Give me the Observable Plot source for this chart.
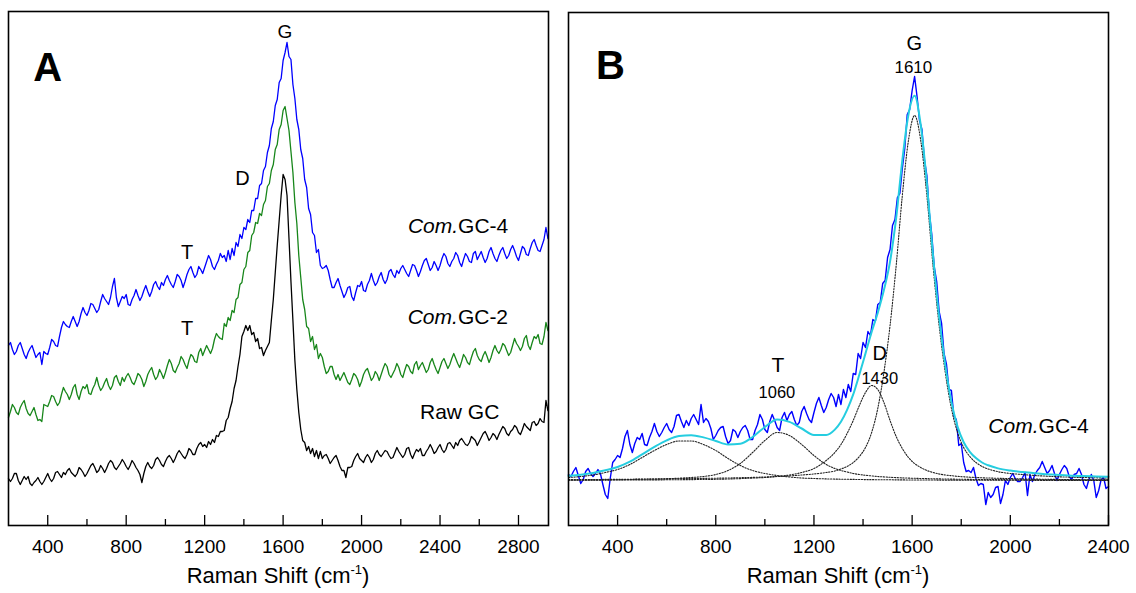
<!DOCTYPE html>
<html><head><meta charset="utf-8">
<script src="https://cdn.jsdelivr.net/npm/d3@7"></script>
<script src="https://cdn.jsdelivr.net/npm/@observablehq/plot@0.6"></script>
<style>
body{margin:0;background:#fff;}
#wrap{position:relative;width:1136px;height:593px;font-family:"Liberation Sans",Arial,sans-serif;overflow:hidden;}
.panel{position:absolute;top:0;}
.xt{position:absolute;top:565px;font-size:22px;line-height:22px;transform:translateX(-50%);white-space:nowrap;color:#000;}
.xt sup{font-size:13px;vertical-align:9px;line-height:0;}
</style></head><body><div id="wrap"></div>
<script>
// ---------- Panel A: Raman spectra, sampled every 10 cm-1 from 200 cm-1 ----------
const A_START = 200, A_STEP = 10;
const comGC4 = [
179,182,175,170,173,179,182,176,170,166,
172,176,179,173,167,170,172,160,173,171,
170,177,185,183,179,178,188,197,203,200,
198,197,203,208,203,198,203,211,217,212,
209,214,221,220,216,212,215,223,230,226,
223,220,227,238,246,227,218,223,228,226,
230,220,219,225,229,235,229,224,228,234,
239,233,228,233,240,243,238,235,242,239,
245,249,244,240,237,243,250,248,244,237,
243,250,255,258,252,247,250,258,255,251,
257,263,269,265,258,255,260,264,271,267,
269,263,274,265,276,269,282,278,290,286,
297,295,305,302,314,314,326,326,339,341,
354,358,372,379,396,403,419,425,442,446,
464,472,482,468,465,440,426,405,395,375,
366,345,337,316,310,292,289,272,275,259,
256,257,259,254,245,237,237,242,246,239,
233,227,231,237,238,228,224,232,239,238,
243,234,233,240,244,251,244,239,242,248,
252,245,241,245,253,255,250,247,254,251,
256,259,255,251,248,254,260,259,254,248,
253,259,264,266,260,254,257,263,259,254,
259,266,271,268,261,258,263,266,272,269,
262,258,265,271,268,263,262,271,273,265,
269,273,267,262,266,273,277,271,266,263,
269,274,277,271,266,269,275,279,274,268,
264,271,278,276,270,269,276,282,285,279,
274,273,279,285,297,286];
const comGC2 = [
107,113,120,117,112,110,117,121,124,116,
111,109,113,117,110,104,105,103,120,119,
118,123,129,128,123,119,122,130,137,133,
130,125,130,137,140,130,125,133,138,136,
140,131,130,136,140,147,139,134,137,142,
146,139,135,139,147,149,143,139,147,143,
148,151,147,142,140,145,151,149,145,138,
143,150,154,157,150,145,148,155,151,146,
152,159,165,161,154,152,157,161,168,165,
160,156,164,170,168,163,162,172,176,169,
174,179,175,171,176,185,191,188,186,185,
201,198,207,204,214,212,225,227,240,242,
255,258,272,274,289,292,302,301,311,309,
320,324,338,341,354,360,375,380,395,400,
414,418,406,394,373,352,322,301,269,247,
225,215,198,196,183,188,175,180,166,171,
167,158,151,153,158,158,150,145,150,144,
148,152,147,142,140,145,151,149,145,138,
143,150,154,156,150,144,147,153,150,144,
150,156,161,158,150,147,151,155,161,157,
150,147,154,160,158,153,151,160,163,155,
159,162,157,152,155,162,166,160,155,151,
157,163,166,161,156,160,166,171,166,161,
157,163,170,167,162,160,167,173,176,169,
165,163,169,173,168,162,167,174,179,174,
171,175,181,179,174,169,172,179,186,181,
178,174,178,186,189,179,175,182,188,186,
190,181,180,188,202,194];
const rawGC = [
46,43,46,51,51,44,40,44,48,45,
48,41,39,42,44,47,43,40,43,47,
51,46,43,46,52,53,50,47,52,50,
54,56,52,50,48,51,57,55,52,48,
51,55,59,61,57,52,54,59,56,52,
56,61,64,62,57,55,58,61,65,62,
58,55,59,64,61,57,54,50,42,51,
58,62,58,56,59,65,67,64,60,58,
63,67,69,66,62,66,71,74,71,68,
66,70,76,74,70,70,76,80,82,78,
80,77,83,80,85,82,89,88,93,93,
94,104,107,116,123,136,144,158,170,188,
193,199,194,199,190,192,183,186,176,177,
169,174,178,182,204,225,252,279,304,329,
350,345,329,286,243,204,164,135,112,95,
84,82,74,78,71,76,68,74,66,73,
66,69,70,66,61,64,67,69,64,58,
54,54,47,57,57,58,64,68,71,66,
64,62,67,70,67,62,65,71,74,70,
68,71,74,73,69,66,67,72,77,73,
70,67,70,76,77,70,66,71,75,73,
76,69,69,73,76,80,76,71,73,77,
80,75,72,75,81,82,79,76,82,79,
84,86,83,80,79,82,88,86,84,79,
83,87,91,93,89,84,87,91,89,85,
90,94,98,96,91,89,93,95,99,97,
92,90,95,101,98,96,94,102,103,99,
101,106,103,102,124,114];

// ---------- Panel B: Com.GC-4 spectrum, every 10 cm-1 from 200 cm-1 ----------
const B_START = 200, B_STEP = 10;
const specB = [
50,48,53,57,49,41,45,53,56,51,
48,51,55,51,40,30,26,46,62,65,
69,67,76,88,94,80,72,81,87,85,
91,80,79,87,93,101,93,88,92,97,
101,95,92,98,109,110,103,97,104,99,
106,110,105,100,120,102,106,103,96,85,
89,94,97,98,88,81,84,95,93,87,
93,97,99,94,85,85,94,100,110,105,
95,92,103,110,104,97,94,107,112,104,
110,113,105,99,102,113,118,111,105,102,
112,121,127,119,112,117,125,131,127,118,
130,120,135,127,140,133,151,150,171,166,
182,177,193,189,205,203,220,222,241,244,
267,275,299,305,327,331,356,376,410,415,
434,448,428,404,395,365,349,312,290,258,
243,213,201,171,160,135,134,108,105,79,
81,62,53,54,52,57,46,39,41,40,
20,32,27,30,37,38,21,30,44,40,
47,51,46,43,43,47,52,29,50,43,
50,54,57,63,57,51,54,59,51,44,
50,55,59,56,48,45,50,51,56,50,
40,36,45,50,44,27,34,45,47,36,
38];

// fitted curves on a shared Raman-shift grid
const fitX = [200,250,300,350,400,450,500,550,600,650,700,750,800,850,900,950,1000,1050,1100,1150,1200,1250,
  1285,1310,1335,1360,1385,1410,1435,1460,1485,1510,1535,1560,1585,1610,1635,1660,1685,1710,1735,1760,1785,1810,1835,1860,1885,
  1910,1950,2000,2050,2100,2150,2200,2250,2300,2350,2400];
const peak660 = [47,48,49.5,52,55,60,67,74,80,83.5,83.5,80,74,66,59,54,51,49,47.5,46.5,46,45.6,
  45.4,45.3,45.2,45.1,45,44.9,44.85,44.8,44.75,44.7,44.65,44.6,44.55,44.5,44.5,44.45,44.45,44.4,44.4,44.35,44.35,44.3,44.3,44.3,44.25,
  44.25,44.2,44.2,44.2,44.15,44.15,44.1,44.1,44.1,44.1,44.1];
const peakT = [44.5,44.5,44.6,44.7,44.8,45,45.2,45.5,45.8,46.3,47,48,50,54,61,72,84,92,89,80,69,60,
  56,54,52.5,51,50,49.2,48.6,48,47.6,47.2,46.9,46.6,46.4,46.2,46,45.9,45.7,45.6,45.5,45.4,45.3,45.2,45.1,45.05,45,
  44.95,44.9,44.8,44.7,44.65,44.6,44.55,44.5,44.45,44.4,44.4];
const peakD = [44.3,44.3,44.35,44.4,44.45,44.5,44.55,44.6,44.7,44.8,44.9,45,45.2,45.5,45.9,46.4,47,48,49.5,52,56,64,
  72,80,91,104,119,132,139,135,122,104,88,76,67,61,57,54,52,50.5,49.5,48.8,48.2,47.7,47.3,47,46.7,
  46.5,46.2,45.9,45.6,45.4,45.2,45.05,44.9,44.8,44.75,44.7];
const peakG = [44.9,45,45,45.1,45.2,45.3,45.4,45.5,45.6,45.8,45.9,46.1,46.3,46.5,46.8,47.1,47.5,48,48.6,49.5,50.5,52,
  53.5,55.5,58,62,68,77,92,116,152,199,259,329,384,409,384,329,259,199,152,116,92,77,68,62,58,
  55.5,52.8,51,50,49,48.3,47.7,47.3,47,46.7,46.5];
const fitTotal = [48.7,49.8,51.5,54.2,57.5,62.8,70.2,77.6,84.1,88.4,89.3,87.1,83.5,80,80.7,87.5,97.5,105,102.6,96,89.5,89.6,
  94.9,102.8,114.7,130.1,150,171.1,192.5,211.8,234.4,262.9,306.6,364.2,410,428.7,399.5,341.4,269.2,207.5,159.4,122.6,97.9,82.2,72.7,66.4,62,
  59.2,56.1,53.9,52.5,51.2,50.3,49.4,48.8,48.4,48,47.7];

// ticks
const aMajor = [400,800,1200,1600,2000,2400,2800];
const aMinor = [600,1000,1400,1800,2200,2600];
const bMajor = [400,800,1200,1600,2000,2400];
const bMinor = [600,1000,1400,1800,2200];

// annotations (data coordinates)
const labelsA = [
  {x:1609, y:493, t:"G", s:19},
  {x:1393, y:346, t:"D", s:20},
  {x:1111, y:272, t:"T", s:20},
  {x:1111, y:196, t:"T", s:20},
  {x:2500, y:112, t:"Raw GC", s:21}
];
const comLabelsA = [{x:2492, y:298, t:"GC-4"}, {x:2491, y:207, t:"GC-2"}];
const labelsB = [
  {x:1609, y:481, t:"G", s:20},
  {x:1605, y:457, t:"1610", s:17},
  {x:1053, y:159, t:"T", s:21},
  {x:1049, y:132, t:"1060", s:16.5},
  {x:1468, y:171, t:"D", s:20},
  {x:1468, y:146, t:"1430", s:16.5}
];
const comLabelsB = [{x:2115, y:98, t:"GC-4"}];

// ---------- build ----------
const fam = '"Liberation Sans", Arial, sans-serif';
const pts = (start, step, vals) => vals.map((v, i) => ({x: start + i * step, y: v}));
const onGrid = vals => vals.map((v, i) => ({x: fitX[i], y: v}));

function tickMarks(major, minor) {
  return [
    Plot.ruleX(major, {y1: -1, y2: 9, stroke: "#000", strokeWidth: 1.3}),
    Plot.ruleX(minor, {y1: -1, y2: 5, stroke: "#000", strokeWidth: 1.3}),
    Plot.axisX(major, {tickSize: 0, tickPadding: 14, fontSize: 19, label: null, tickFormat: d => String(d), fill: "#000"}),
    Plot.frame({stroke: "#000", strokeWidth: 1.6})
  ];
}
function comLabel(data, s) {
  return [
    Plot.text(data, {x: "x", y: "y", text: () => "Com.", textAnchor: "end", fontStyle: "italic", fontSize: s, fill: "#000"}),
    Plot.text(data, {x: "x", y: "y", text: "t", textAnchor: "start", fontSize: s, fill: "#000"})
  ];
}

const plotA = Plot.plot({
  width: 560, height: 593,
  marginLeft: 8, marginRight: 12, marginTop: 11, marginBottom: 68,
  x: {domain: [200, 2953], axis: null, label: null},
  y: {domain: [-1, 513], axis: null, label: null},
  style: {fontFamily: fam, background: "transparent", overflow: "visible"},
  marks: [
    Plot.line(pts(A_START, A_STEP, rawGC), {x: "x", y: "y", stroke: "#000", strokeWidth: 1.3}),
    Plot.line(pts(A_START, A_STEP, comGC2), {x: "x", y: "y", stroke: "#17861a", strokeWidth: 1.3}),
    Plot.line(pts(A_START, A_STEP, comGC4), {x: "x", y: "y", stroke: "#0000ff", strokeWidth: 1.3}),
    ...tickMarks(aMajor, aMinor),
    Plot.text([{x: 400, y: 456}], {x: "x", y: "y", text: () => "A", fontSize: 40, fontWeight: "bold", fill: "#000"}),
    Plot.text(labelsA, {x: "x", y: "y", text: "t", fontSize: d => d.s, fill: "#000"}),
    ...comLabel(comLabelsA, 21)
  ]
});

const dotted = {x: "x", y: "y", stroke: "#222", strokeWidth: 1.1, strokeDasharray: "1.3,1.5", curve: "monotone-x"};
const plotB = Plot.plot({
  width: 576, height: 593,
  marginLeft: 8, marginRight: 28, marginTop: 12, marginBottom: 68,
  x: {domain: [200, 2400], axis: null, label: null},
  y: {domain: [-1, 512], axis: null, label: null},
  style: {fontFamily: fam, background: "transparent", overflow: "visible"},
  marks: [
    Plot.line(pts(B_START, B_STEP, specB), {x: "x", y: "y", stroke: "#0000ff", strokeWidth: 1.4}),
    Plot.line(onGrid(peak660), dotted),
    Plot.line(onGrid(peakT), dotted),
    Plot.line(onGrid(peakD), dotted),
    Plot.line(onGrid(peakG), dotted),
    Plot.line(onGrid(fitTotal), {x: "x", y: "y", stroke: "#25cde0", strokeWidth: 2, curve: "monotone-x"}),
    ...tickMarks(bMajor, bMinor),
    Plot.text([{x: 371, y: 458}], {x: "x", y: "y", text: () => "B", fontSize: 40, fontWeight: "bold", fill: "#000"}),
    Plot.text(labelsB, {x: "x", y: "y", text: "t", fontSize: d => d.s, fill: "#000"}),
    ...comLabel(comLabelsB, 21)
  ]
});

const wrap = document.getElementById("wrap");
const pa = document.createElement("div"); pa.className = "panel"; pa.style.left = "0px"; pa.appendChild(plotA);
const pb = document.createElement("div"); pb.className = "panel"; pb.style.left = "560px"; pb.appendChild(plotB);
wrap.appendChild(pa); wrap.appendChild(pb);
for (const cx of [278, 838]) {
  const t = document.createElement("div");
  t.className = "xt"; t.style.left = cx + "px";
  t.innerHTML = "Raman Shift (cm<sup>-1</sup>)";
  wrap.appendChild(t);
}
</script>
</body></html>
